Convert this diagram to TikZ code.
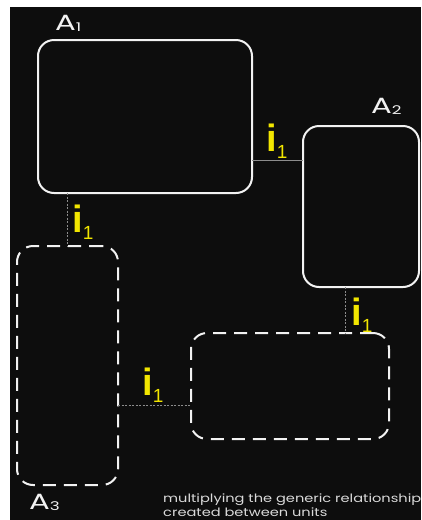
\documentclass[tikz,border=0pt]{standalone}
\usepackage{fontspec}
\newfontfamily\labfont[FakeStretch=1.4]{Poppins}
\newfontfamily\capfont[FakeStretch=1.27]{Poppins}
\newfontfamily\ifont{Liberation Sans}
\definecolor{bg}{HTML}{0D0D0D}
\definecolor{linew}{HTML}{F2F2F2}
\definecolor{linkgray}{HTML}{8C8C8C}
\definecolor{ylw}{HTML}{F2E600}
\newcommand\ilabel{i\kern0pt\raisebox{-7pt}{\mdseries\fontsize{19}{19}\selectfont 1}}
\newcommand\alabel[1]{A\raisebox{-1.5pt}{\fontsize{12}{12}\selectfont #1}}
\begin{document}
\begin{tikzpicture}[x=1pt,y=-1pt,
  unit/.style={draw=linew, line width=2pt, rounded corners=16pt, inner sep=0pt, outer sep=0pt},
  dunit/.style={unit, dash pattern=on 13pt off 8pt},
  link/.style={draw=linkgray, line width=0.8pt, dash pattern=on 2pt off 1.5pt},
  ilab/.style={text=ylw, font=\ifont\bfseries\fontsize{38}{38}\selectfont, anchor=base west, inner sep=0pt},
  alab/.style={text=linew, font=\labfont\fontsize{22}{22}\selectfont, anchor=base west, inner sep=0pt},
  caption/.style={text=linew!90!black, font=\capfont\fontsize{11.5}{14}\selectfont, anchor=north west, inner sep=0pt, align=left}]
\useasboundingbox (0,0) rectangle (421,520);
\clip (0,0) rectangle (421,520);
\fill[white] (0,0) rectangle (421,520);
\fill[bg] (10,7) rectangle (421,520);

\node[unit, minimum width=214pt, minimum height=153pt] (A1) at (145,116.5) {};
\node[unit, minimum width=116pt, minimum height=161pt] (A2) at (361,206.5) {};
\node[dunit, minimum width=101pt, minimum height=239pt] (A3) at (67.5,365.5) {};
\node[dunit, minimum width=198pt, minimum height=106pt] (B4) at (290,386) {};

\node[alab] (LA1) at (55,30) {\alabel{1}};
\node[alab] (LA2) at (371,113) {\alabel{2}};
\node[alab] (LA3) at (29,509) {\alabel{3}};

\draw[link, dash pattern=, line width=0.6pt] (A1.east |- 0,160) -- (A2.west |- 0,160);
\draw[link] (A3.north |- A1.south) -- (A3.north);
\draw[link] (345,0 |- A2.south) -- (345,0 |- B4.north);
\draw[link] (A3.east |- 0,405) -- (B4.west |- 0,405);

\node[ilab] (i12) at (266,151) {\ilabel};
\node[ilab] (i13) at (72,232) {\ilabel};
\node[ilab] (i24) at (351,325) {\ilabel};
\node[ilab] (i34) at (142,395) {\ilabel};

\node[caption] (cap) at (163,494) {multiplying the generic relationship\\created between units};
\end{tikzpicture}
\end{document}
